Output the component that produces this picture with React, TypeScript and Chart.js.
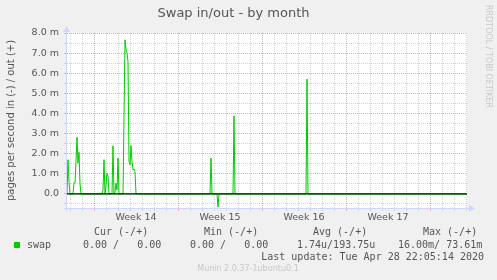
import React, { useEffect, useRef } from 'react';
import { Chart, registerables } from 'chart.js';

Chart.register(...registerables);

// ---- data (x: hours since graph start, 2 h per sample; y: milli-pages per second) ----
const outHours = [0, 2, 4, 6, 12, 14, 16, 18, 20, 22, 24, 26, 28, 70, 72, 74, 76, 78, 80, 82, 84, 90, 92, 94, 96, 98, 100, 102, 104, 112, 114, 116, 118, 120, 122, 124, 126, 128, 130, 132, 134, 136, 138, 286, 288, 290, 332, 334, 336, 478, 480, 482, 800];
const outValues = [0, 1.7, 0.6, 0, 0, 0.55, 0.55, 1.6, 2.82, 1.54, 2.07, 0.5, 0, 0, 0.2, 1.7, 0, 0.4, 1.03, 0.9, 0, 0, 2.39, 0, 0.1, 0.53, 0.2, 1.78, 0, 0, 3.8, 7.66, 7.2, 7.0, 6.58, 1.6, 1.45, 2.4, 1.6, 1.2, 1.24, 1.1, 0, 0, 1.78, 0, 0, 3.88, 0, 0, 5.71, 0, 0];
const inHours = [0, 300, 302, 304, 800];
const inValues = [0, 0, 0.66, 0, 0];

const dayLineHours = [6, 30, 54, 78, 102, 126, 150, 174, 198, 222, 246, 270, 294, 318, 342, 366, 390, 414, 438, 462, 486, 510, 534, 558, 582, 606, 630, 654, 678, 702, 726, 750, 774, 798];
const weekStartHours = [54, 222, 390, 558, 726];
const weekCenterHours = [138, 306, 474, 642];
const weekLabels = ['Week 14', 'Week 15', 'Week 16', 'Week 17'];
const yTickValues = [-0.5, 0, 0.5, 1, 1.5, 2, 2.5, 3, 3.5, 4, 4.5, 5, 5.5, 6, 6.5, 7, 7.5, 8];

const legendHeaders = ['Cur (-/+)', 'Min (-/+)', 'Avg (-/+)', 'Max (-/+)'];
const legendValues = ['0.00 /   0.00', '0.00 /   0.00', '1.74u/193.75u', '16.00m/ 73.61m'];
const seriesName = 'swap';
const titleText = 'Swap in/out - by month';
const yTitle = 'pages per second in (-) / out (+)';
const lastUpdate = 'Last update: Tue Apr 28 22:05:14 2020';
const footer = 'Munin 2.0.37-1ubuntu0.1';
const watermark = 'RRDTOOL / TOBI OETIKER';

// ---- styles ----
const FONT = "'DejaVu Sans', sans-serif";
const MONO = "'DejaVu Sans Mono', monospace";
const TEXT = '#555555';
const AXIS = '#CFD6F8';
const MAJOR = '#f0a8a8';
const MINOR = '#d2d2d2';
const GREEN = '#00cc00';

const headerX = [94, 204, 313, 423];
const valueX = [83, 190, 297, 398];

const muninPlugin = {
  id: 'muninDecor',
  beforeDraw(chart: any) {
    const { ctx, chartArea: a, width, height } = chart;
    ctx.save();
    ctx.fillStyle = '#f0f0f0';
    ctx.fillRect(0, 0, width, height);
    ctx.fillStyle = '#ffffff';
    ctx.fillRect(a.left, a.top, a.right - a.left, a.bottom - a.top);
    ctx.restore();
  },
  beforeDatasetsDraw(chart: any) {
    const { ctx, chartArea: a } = chart;
    ctx.save();
    ctx.strokeStyle = AXIS;
    ctx.fillStyle = AXIS;
    ctx.lineWidth = 1;
    const ax = a.left - 0.5;
    const ay = a.bottom + 0.5;
    ctx.beginPath();
    ctx.moveTo(ax, a.bottom + 3);
    ctx.lineTo(ax, a.top - 3);
    ctx.moveTo(a.left - 3, ay);
    ctx.lineTo(a.right + 3, ay);
    ctx.stroke();
    ctx.beginPath();
    ctx.moveTo(ax, a.top - 7);
    ctx.lineTo(ax - 3.5, a.top - 1);
    ctx.lineTo(ax + 3.5, a.top - 1);
    ctx.closePath();
    ctx.fill();
    ctx.beginPath();
    ctx.moveTo(a.right + 8, ay);
    ctx.lineTo(a.right + 2, ay - 3.5);
    ctx.lineTo(a.right + 2, ay + 3.5);
    ctx.closePath();
    ctx.fill();
    ctx.restore();
  },
  afterDraw(chart: any) {
    const { ctx } = chart;
    ctx.save();
    ctx.textBaseline = 'middle';
    ctx.fillStyle = TEXT;
    ctx.font = `10px ${MONO}`;
    ctx.textAlign = 'left';
    legendHeaders.forEach((h, i) => ctx.fillText(h, headerX[i], 232));
    legendValues.forEach((v, i) => ctx.fillText(v, valueX[i], 245));
    ctx.fillText(seriesName, 27, 245);
    ctx.fillStyle = GREEN;
    ctx.fillRect(14, 242, 6, 6);
    ctx.fillStyle = TEXT;
    ctx.textAlign = 'right';
    ctx.fillText(lastUpdate, 484, 257);
    ctx.fillStyle = '#c8c8c8';
    ctx.font = `8px ${FONT}`;
    ctx.textAlign = 'center';
    ctx.fillText(footer, 248, 268.5);
    ctx.translate(488, 5);
    ctx.rotate(Math.PI / 2);
    ctx.textAlign = 'left';
    ctx.fillText(watermark, 0, 0);
    ctx.restore();
  },
};

export default function App() {
  const ref = useRef<HTMLCanvasElement>(null);
  useEffect(() => {
    document.body.style.margin = '0';
    const chart = new Chart(ref.current as HTMLCanvasElement, {
      type: 'line',
      data: {
        datasets: [
          {
            label: 'zero',
            data: [{ x: 0, y: 0 }, { x: 800, y: 0 }],
            borderColor: '#000000',
            borderWidth: 1,
            pointRadius: 0,
            order: -1,
          },
          {
            label: seriesName,
            data: outHours.map((h, i) => ({ x: h, y: outValues[i] })),
            borderColor: GREEN,
            borderWidth: 1,
            pointRadius: 0,
            tension: 0,
          },
          {
            label: seriesName + ' in',
            data: inHours.map((h, i) => ({ x: h, y: -inValues[i] })),
            borderColor: GREEN,
            borderWidth: 1,
            pointRadius: 0,
            tension: 0,
          },
        ],
      },
      options: {
        responsive: false,
        maintainAspectRatio: false,
        animation: false,
        events: [],
        layout: { padding: { left: 0, right: 30, top: 0, bottom: 49 } },
        plugins: {
          legend: { display: false },
          tooltip: { enabled: false },
          title: {
            display: true,
            text: titleText,
            color: TEXT,
            font: { family: FONT, size: 13, weight: 'normal' },
            padding: { top: 6, bottom: 11.4 },
          },
        },
        scales: {
          x: {
            type: 'linear',
            position: 'bottom',
            min: 0,
            max: 800,
            afterBuildTicks: (s: any) => {
              s.ticks = dayLineHours.map((v) => ({ value: v }));
            },
            afterFit: (s: any) => {
              s.height = 3;
            },
            ticks: { display: false, autoSkip: false },
            grid: {
              color: (c: any) => (c.tick && weekStartHours.includes(c.tick.value) ? MAJOR : MINOR),
              lineWidth: 1,
              drawTicks: true,
              tickLength: 3,
            },
            border: { display: false, dash: [1, 1] },
          },
          x2: {
            type: 'linear',
            position: 'bottom',
            min: 0,
            max: 800,
            afterBuildTicks: (s: any) => {
              s.ticks = weekCenterHours.map((v) => ({ value: v }));
            },
            afterFit: (s: any) => {
              s.height = 20;
            },
            ticks: {
              autoSkip: false,
              maxRotation: 0,
              padding: 1,
              color: TEXT,
              font: { family: FONT, size: 9.5 },
              callback: (_v: any, i: number) => weekLabels[i],
            },
            grid: { display: false, drawTicks: false },
            border: { display: false },
          },
          y: {
            type: 'linear',
            min: -0.7,
            max: 8,
            afterBuildTicks: (s: any) => {
              s.ticks = yTickValues.map((v) => ({ value: v }));
            },
            afterFit: (s: any) => {
              s.width = 67;
            },
            ticks: {
              autoSkip: false,
              padding: 5,
              color: TEXT,
              font: { family: FONT, size: 9.5 },
              callback: (v: any) => {
                const n = Number(v);
                if (Math.abs(n - Math.round(n)) > 1e-9) return '';
                return n === 0 ? '0.0' : n.toFixed(1) + ' m';
              },
            },
            grid: {
              color: (c: any) => (c.tick && Number.isInteger(c.tick.value) ? MAJOR : MINOR),
              lineWidth: 1,
              drawTicks: true,
              tickLength: 3,
            },
            border: { display: false, dash: [1, 1] },
            title: {
              display: true,
              text: yTitle,
              color: TEXT,
              font: { family: FONT, size: 10 },
              padding: { top: 5.5, bottom: 0 },
            },
          },
        },
      },
      plugins: [muninPlugin],
    } as any);
    return () => chart.destroy();
  }, []);
  return (
    <div style={{ width: 497, height: 280 }}>
      <canvas ref={ref} width={497} height={280} style={{ display: 'block' }} />
    </div>
  );
}
